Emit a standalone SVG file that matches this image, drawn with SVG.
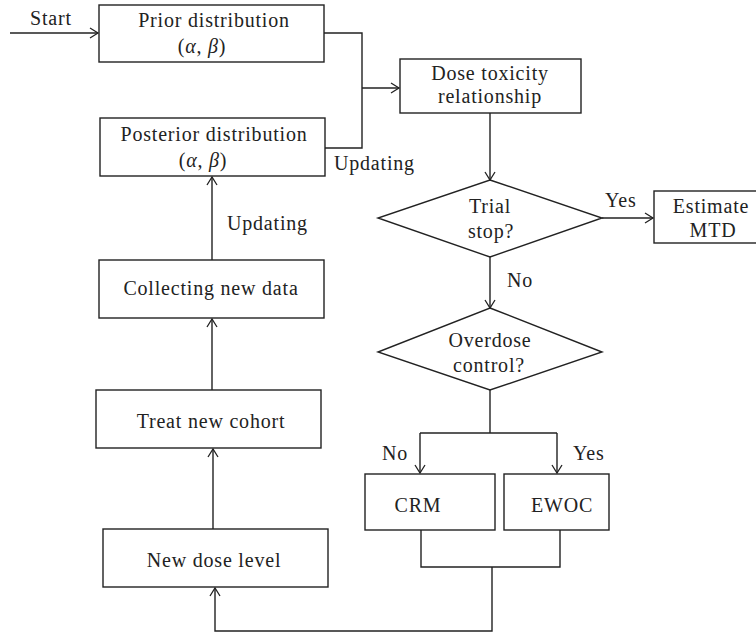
<svg xmlns="http://www.w3.org/2000/svg" width="756" height="633" viewBox="0 0 756 633">
<style>
text{font-family:"Liberation Serif","Times New Roman",serif;font-size:20px;letter-spacing:0.8px;fill:#222}
.c{text-anchor:middle}
.box{fill:#fff;stroke:#222;stroke-width:1.4}
.ln{fill:none;stroke:#222;stroke-width:1.4}
.g{font-style:italic}
</style>
<defs>
<marker id="ah" markerUnits="userSpaceOnUse" markerWidth="12" markerHeight="14" viewBox="-10 -6 12 12" refX="0" refY="0" orient="auto">
<path d="M-8,-5 L0,0 L-8,5" fill="none" stroke="#222" stroke-width="1.3"/>
</marker>
</defs>
<rect width="756" height="633" fill="#fff"/>
<g id="connectors">
<line class="ln" x1="10" y1="33" x2="98" y2="33" marker-end="url(#ah)"/>
<polyline class="ln" points="324,33 362,33 362,148 325,148"/>
<line class="ln" x1="362" y1="88" x2="399" y2="88" marker-end="url(#ah)"/>
<line class="ln" x1="490" y1="113" x2="490" y2="180" marker-end="url(#ah)"/>
<line class="ln" x1="602" y1="218" x2="653" y2="218" marker-end="url(#ah)"/>
<line class="ln" x1="490" y1="257" x2="490" y2="308" marker-end="url(#ah)"/>
<line class="ln" x1="490" y1="390" x2="490" y2="433"/>
<line class="ln" x1="420" y1="433" x2="557" y2="433"/>
<line class="ln" x1="420" y1="433" x2="420" y2="473" marker-end="url(#ah)"/>
<line class="ln" x1="557" y1="433" x2="557" y2="473" marker-end="url(#ah)"/>
<polyline class="ln" points="421,530 421,567 560,567 560,530"/>
<polyline class="ln" points="492,567 492,631 215,631 215,588" marker-end="url(#ah)"/>
<line class="ln" x1="213" y1="529" x2="213" y2="449" marker-end="url(#ah)"/>
<line class="ln" x1="212" y1="390" x2="212" y2="319" marker-end="url(#ah)"/>
<line class="ln" x1="212" y1="260" x2="212" y2="177" marker-end="url(#ah)"/>
<text x="30" y="25">Start</text>
<text x="334" y="170">Updating</text>
<text x="227" y="230">Updating</text>
<text x="605" y="207">Yes</text>
<text x="507" y="287">No</text>
<text x="382" y="460">No</text>
<text x="573" y="460">Yes</text>
</g>
<g id="prior">
<rect class="box" x="99" y="5" width="225" height="57"/>
<text class="c" x="214" y="27">Prior distribution</text>
<text class="c" x="202" y="53">(<tspan class="g">α</tspan>, <tspan class="g">β</tspan>)</text>
</g>
<g id="posterior">
<rect class="box" x="100" y="118" width="225" height="58"/>
<text class="c" x="214" y="141">Posterior distribution</text>
<text class="c" x="203" y="167">(<tspan class="g">α</tspan>, <tspan class="g">β</tspan>)</text>
</g>
<g id="dose-toxicity">
<rect class="box" x="400" y="59" width="181" height="54"/>
<text class="c" x="490" y="80">Dose toxicity</text>
<text class="c" x="490" y="103">relationship</text>
</g>
<g id="trial-stop">
<polygon class="box" points="490,180 602,218 490,257 378,218"/>
<text class="c" x="490" y="213">Trial</text>
<text class="c" x="491" y="238">stop?</text>
</g>
<g id="estimate-mtd">
<rect class="box" x="654" y="191" width="120" height="52"/>
<text class="c" x="711" y="213">Estimate</text>
<text class="c" x="713" y="237">MTD</text>
</g>
<g id="overdose">
<polygon class="box" points="490,308 602,352 490,390 378,352"/>
<text class="c" x="490" y="347">Overdose</text>
<text class="c" x="489" y="372">control?</text>
</g>
<g id="crm">
<rect class="box" x="365" y="474" width="130" height="56"/>
<text class="c" x="418" y="512">CRM</text>
</g>
<g id="ewoc">
<rect class="box" x="504" y="474" width="105" height="56"/>
<text class="c" x="562" y="512">EWOC</text>
</g>
<g id="new-dose">
<rect class="box" x="103" y="529" width="225" height="58"/>
<text class="c" x="214" y="567">New dose level</text>
</g>
<g id="treat">
<rect class="box" x="96" y="390" width="225" height="58"/>
<text class="c" x="211" y="428">Treat new cohort</text>
</g>
<g id="collecting">
<rect class="box" x="99" y="260" width="225" height="58"/>
<text class="c" x="211" y="295">Collecting new data</text>
</g>
</svg>
